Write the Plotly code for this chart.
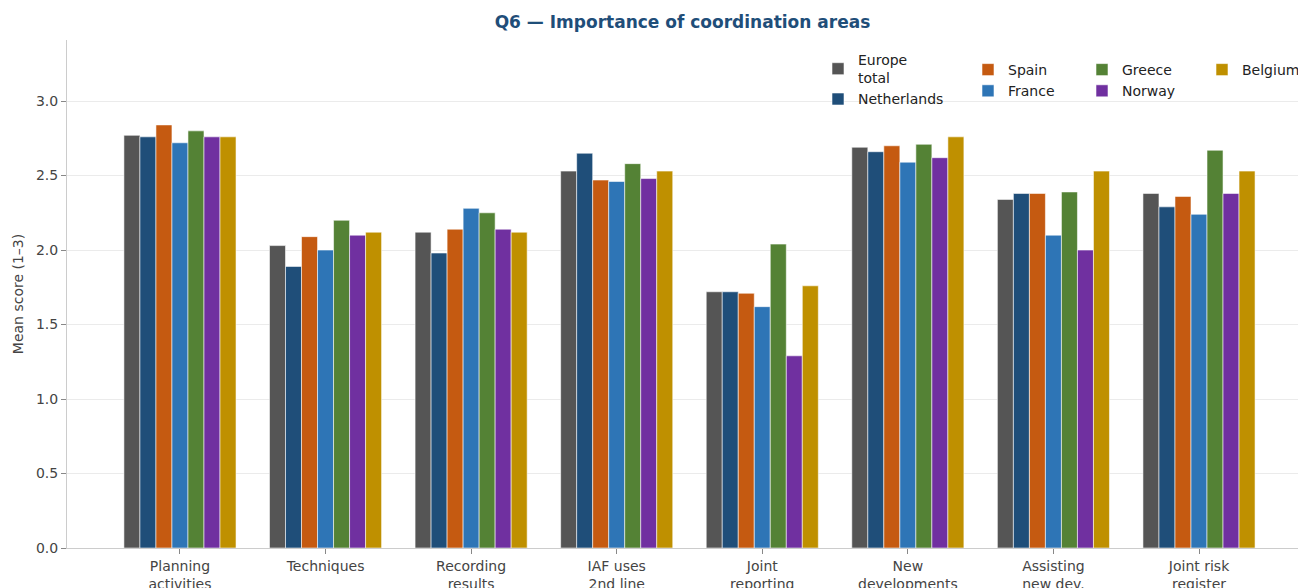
import plotly.graph_objects as go

categories = ["Planning<br>activities", "Techniques", "Recording<br>results", "IAF uses<br>2nd line",
              "Joint<br>reporting", "New<br>developments", "Assisting<br>new dev.", "Joint risk<br>register"]

europe_total = [2.77, 2.03, 2.12, 2.53, 1.72, 2.69, 2.34, 2.38]
netherlands  = [2.76, 1.89, 1.98, 2.65, 1.72, 2.66, 2.38, 2.29]
spain        = [2.84, 2.09, 2.14, 2.47, 1.71, 2.70, 2.38, 2.36]
france       = [2.72, 2.00, 2.28, 2.46, 1.62, 2.59, 2.10, 2.24]
greece       = [2.80, 2.20, 2.25, 2.58, 2.04, 2.71, 2.39, 2.67]
norway       = [2.76, 2.10, 2.14, 2.48, 1.29, 2.62, 2.00, 2.38]
belgium      = [2.76, 2.12, 2.12, 2.53, 1.76, 2.76, 2.53, 2.53]

series = [
    ("Europe<br>total", europe_total, "#555555", "legend"),
    ("Netherlands", netherlands, "#1f4e79", "legend"),
    ("Spain", spain, "#c55a11", "legend2"),
    ("France", france, "#2e75b6", "legend2"),
    ("Greece", greece, "#548235", "legend3"),
    ("Norway", norway, "#7030a0", "legend3"),
    ("Belgium", belgium, "#bf9000", "legend4"),
]

fig = go.Figure()
for name, vals, color, leg in series:
    fig.add_trace(go.Bar(
        x=categories, y=vals, name=name, legend=leg,
        marker=dict(color=color, line=dict(color="rgba(255,255,255,0.7)", width=0.8)),
    ))

W, H = 1298, 588
ml, mr, mt, mb = 67, 0, 40, 40
pw, ph = W - ml - mr, H - mt - mb

def px_x(x):
    return (x - ml) / pw

def px_y(y):
    return (H - mb - y) / ph

legfont = dict(family="DejaVu Sans", size=14, color="#222222")
def leg(xpx, ypx):
    return dict(x=px_x(xpx), y=px_y(ypx), xanchor="left", yanchor="top",
                bgcolor="rgba(0,0,0,0)", font=legfont, tracegroupgap=0,
                itemwidth=30, orientation="v")

fig.update_layout(
    width=W, height=H,
    margin=dict(l=ml, r=mr, t=mt, b=mb, autoexpand=False),
    paper_bgcolor="white", plot_bgcolor="white",
    barmode="group", bargap=0.23, bargroupgap=0,
    font=dict(family="DejaVu Sans", size=14, color="#444444"),
    title=dict(text="<b>Q6 — Importance of coordination areas</b>",
               x=(ml + pw / 2) / W, xanchor="center", y=1 - 22 / H, yanchor="middle",
               font=dict(family="DejaVu Sans", size=17, color="#1f4e79")),
    legend=leg(818, 44),
    legend2=leg(968, 54),
    legend3=leg(1082, 54),
    legend4=leg(1202, 54),
    showlegend=True,
    xaxis=dict(range=[-0.776, 7.68], showgrid=False, showline=True, linecolor="#cccccc",
               linewidth=1, ticks="outside", ticklen=5, tickcolor="#888888",
               tickfont=dict(family="DejaVu Sans", size=14, color="#444444"),
               automargin=False, zeroline=False),
    yaxis=dict(range=[0, 3.41], dtick=0.5, tickformat=".1f", showgrid=True, gridcolor="#ebebeb",
               gridwidth=1, showline=True, linecolor="#cccccc", linewidth=1,
               ticks="outside", ticklen=5, tickcolor="#888888",
               tickfont=dict(family="DejaVu Sans", size=14, color="#444444"),
               title=dict(text="Mean score (1–3)", font=dict(family="DejaVu Sans", size=14, color="#444444"),
                          standoff=9),
               automargin=False, zeroline=False),
)

fig.write_html("out.html", config={"displayModeBar": False},
               post_script="document.body.style.margin='0';document.body.style.overflow='hidden';")
